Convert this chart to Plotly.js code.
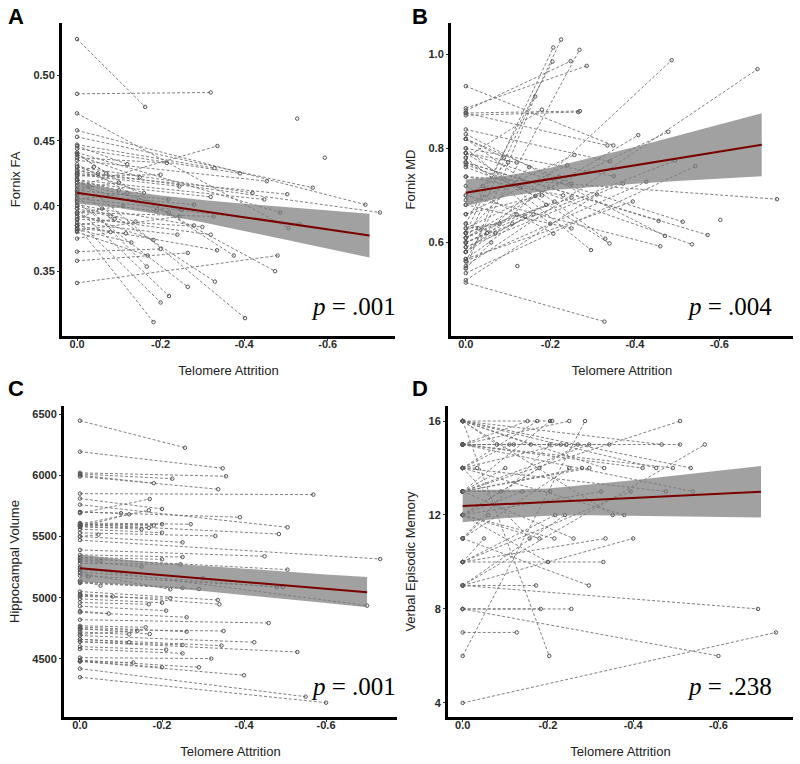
<!DOCTYPE html>
<html>
<head>
<meta charset="utf-8">
<script src="https://cdn.plot.ly/plotly-3.0.1.min.js"></script>
<style>html,body{margin:0;padding:0;background:#fff;}#chart{width:800px;height:764px;}</style>
</head>
<body>
<div id="chart"></div>
<script>
// ---------- Panel A: Fornix FA ----------
const attrA = [-0.163,-0.32,-0.506,-0.69,-0.564,-0.336,-0.329,-0.39,-0.215,-0.454,-0.725,-0.503,-0.42,-0.448,-0.486,-0.533,-0.32,-0.327,-0.32,-0.28,-0.375,-0.335,-0.48,-0.474,-0.33,-0.265,-0.22,-0.2,-0.183,-0.402,-0.24,-0.265,-0.218,-0.245,-0.245,-0.2,-0.169,-0.183,-0.167,-0.117,-0.15,-0.2,-0.1,-0.08,-0.12,-0.06,-0.14,-0.1,-0.05,-0.13,-0.28,-0.22,-0.3,-0.527,-0.593,-0.04,-0.07,-0.09,-0.11,-0.03,-0.16,-0.19,-0.12,-0.08,-0.25];
const baseA = [0.528,0.486,0.471,0.458,0.453,0.415,0.447,0.444,0.437,0.435,0.427,0.425,0.430,0.420,0.441,0.406,0.418,0.395,0.392,0.401,0.440,0.385,0.341,0.432,0.411,0.358,0.398,0.389,0.385,0.421,0.387,0.403,0.412,0.424,0.381,0.423,0.380,0.394,0.408,0.383,0.439,0.365,0.413,0.398,0.405,0.390,0.400,0.420,0.430,0.382,0.409,0.416,0.390,null,null,0.425,0.440,0.385,0.395,0.410,0.428,0.404,0.446,0.375,0.418];
const followA = [0.476,0.487,0.383,0.401,0.414,0.446,0.429,0.425,0.433,0.419,0.395,0.409,0.410,0.405,0.395,0.386,0.407,0.392,0.378,0.385,0.362,0.366,0.362,0.350,0.342,0.364,0.331,0.326,0.311,0.314,0.378,0.338,0.405,0.415,0.392,0.424,0.362,0.374,0.3535,0.379,0.422,0.367,0.418,0.392,0.410,0.398,0.388,0.412,0.425,0.372,0.401,0.395,0.384,0.467,0.437,0.430,0.425,0.390,0.400,0.415,0.410,0.396,0.432,0.380,0.397];

// ---------- Panel B: Fornix MD ----------
const attrB = [-0.2255,-0.207,-0.205,-0.269,-0.248,-0.286,-0.487,-0.69,-0.164,-0.27,-0.266,-0.18,-0.349,-0.335,-0.408,-0.479,-0.341,-0.495,-0.543,-0.35,-0.427,-0.736,-0.372,-0.25,-0.24,-0.257,-0.395,-0.456,-0.513,-0.602,-0.572,-0.471,-0.535,-0.46,-0.33,-0.34,-0.296,-0.207,-0.328,-0.122,-0.2,-0.31,-0.25,-0.21,-0.165,-0.13,-0.22,-0.1,-0.15,-0.12,-0.08,-0.18,-0.14,-0.06,-0.25,-0.04,-0.07,-0.09,-0.11,-0.05,-0.16,-0.19,-0.12,-0.23,-0.03];
const baseB = [0.60,0.62,0.64,0.56,0.88,0.885,0.58,0.55,0.545,0.875,0.87,0.78,0.932,0.875,0.61,0.63,0.84,0.60,0.535,0.80,0.56,0.74,0.59,0.82,0.66,0.68,0.565,0.77,0.79,null,0.77,0.83,0.765,0.70,0.82,0.79,0.80,0.72,0.515,null,0.78,0.52,0.62,0.60,0.77,0.76,0.58,0.69,0.62,0.61,0.63,0.66,0.565,0.545,0.68,0.70,0.64,0.82,0.58,0.60,0.59,0.61,0.79,0.74,0.62];
const followB = [1.031,1.014,0.984,1.009,0.985,0.975,0.987,0.968,0.91,0.879,0.877,0.882,0.806,0.806,0.828,0.835,0.772,0.774,0.762,0.741,0.729,0.692,0.725,0.725,0.764,0.786,0.687,0.646,0.644,0.648,0.616,0.614,0.596,0.592,0.608,0.598,0.584,0.619,0.432,0.55,0.64,0.702,0.695,0.687,0.699,0.716,0.74,0.77,0.76,0.66,0.64,0.70,0.655,0.60,0.63,0.72,0.62,0.78,0.64,0.62,0.66,0.68,0.77,0.70,0.63];

// ---------- Panel C: Hippocampal Volume ----------
const attrC = [-0.256,-0.348,-0.356,-0.225,-0.18,-0.337,-0.569,-0.732,-0.17,-0.168,-0.2,-0.12,-0.39,-0.506,-0.485,-0.27,-0.2,-0.168,-0.2,-0.33,-0.25,-0.045,-0.45,-0.25,-0.2,-0.506,-0.15,-0.245,-0.30,-0.02,-0.05,-0.22,-0.29,-0.25,-0.48,-0.495,-0.70,-0.336,-0.34,-0.22,-0.2,-0.168,-0.21,-0.26,-0.46,-0.16,-0.17,-0.26,-0.35,-0.14,-0.425,-0.345,-0.25,-0.12,-0.21,-0.53,-0.25,-0.32,-0.2,-0.29,-0.40,-0.55,-0.60,-0.1,-0.15,-0.08,-0.12,-0.07,-0.18,-0.05,-0.13];
const baseC = [6446,6193,6020,6010,6000,5990,5850,5470,5690,5600,5810,5580,5700,5760,5600,5610,5590,5580,5560,5530,5500,5500,5390,5350,5330,5320,5300,5280,5230,5250,5140,5200,5130,5120,5210,5180,5240,5050,5030,5010,4990,4960,4930,4880,4820,4770,4750,4760,4740,4700,4690,4660,4640,4660,4600,4640,4580,4510,4480,4490,4480,4420,4350,5700,5580,5020,4720,4890,5600,5310,4480];
const followC = [6225,6057,5992,5972,5935,5886,5842,5316,5806,5714,5725,5681,5657,5575,5520,5600,5600,5570,5531,5504,5452,5515,5338,5332,5313,5229,5253,5273,5158,5172,5098,5068,5071,5079,5087,5087,4935,4981,4946,4995,4959,4946,4894,4840,4793,4758,4703,4722,4728,4730,4636,4608,4614,4636,4575,4556,4545,4502,4431,4431,4366,4191,4142,5690,5560,5010,4700,4870,5590,5300,4470];

// ---------- Panel D: Verbal Episodic Memory ----------
const attrD = [-0.152,-0.175,-0.205,-0.21,-0.25,-0.287,-0.51,-0.568,-0.51,-0.467,-0.344,-0.297,-0.27,-0.243,-0.204,-0.16,-0.12,-0.535,-0.493,-0.454,-0.422,-0.332,-0.297,-0.25,-0.034,-0.54,-0.477,-0.394,-0.325,-0.205,-0.352,-0.379,-0.217,-0.26,-0.215,-0.18,-0.157,-0.335,-0.40,-0.33,-0.2,-0.296,-0.172,-0.255,-0.183,-0.693,-0.127,-0.203,-0.6,-0.735,-0.1,-0.14,-0.06,-0.23,-0.28,-0.24,-0.08,-0.11,-0.18,-0.05,-0.09];
const baseD = [15,14,13,16,15,6,13,9,15,16,15,13,12,15,11,16,15,16,15,16,15,16,13,11,14,15,14,10,12,13,16,14,10,13,12,12,14,10,9,10,12,11,9,8,8,9,7,16,8,4,13,12,11,14,13,9,16,14,12,10,13];
const followD = [16,16,16,16,16,16,16,15,15,15,15,15,15,15,15,15,15,14,14,14,14,14,14,14,14,13,13,13,13,13,12,12,12,11,11,11,11,11,11,10,10,9,9,8,8,8,7,6,6,7,14,13,12,15,14,12,15,15,14,11,13];

// ---------- Regression fits and confidence bands ----------
const fitX = [0,-0.1,-0.2,-0.3,-0.4,-0.5,-0.6,-0.7];
const fitA = [0.4102,0.4055,0.4008,0.3961,0.3914,0.3867,0.3820,0.3773];
const loA  = [0.4019,0.3985,0.3935,0.3876,0.3811,0.3743,0.3674,0.3605];
const hiA  = [0.4185,0.4125,0.4081,0.4046,0.4017,0.3991,0.3966,0.3941];
const fitB = [0.7057,0.7203,0.7348,0.7494,0.7639,0.7785,0.7930,0.8076];
const loB  = [0.6777,0.6983,0.7108,0.7184,0.7249,0.7305,0.7360,0.7406];
const hiB  = [0.7337,0.7423,0.7588,0.7804,0.8029,0.8265,0.8500,0.8746];
const fitC = [5240,5212,5184,5157,5129,5101,5073,5045];
const loC  = [5127,5110,5084,5055,5023,4990,4956,4922];
const hiC  = [5353,5314,5284,5259,5235,5212,5190,5168];
const fitD = [12.38,12.47,12.55,12.64,12.73,12.82,12.90,12.99];
const loD  = [11.69,11.87,11.97,11.99,11.98,11.96,11.92,11.89];
const hiD  = [13.07,13.07,13.13,13.29,13.48,13.68,13.88,14.09];

// ---------- Labels ----------
const panelLetters = ["A","B","C","D"];
const yTitles = ["Fornix FA","Fornix MD","Hippocampal Volume","Verbal Episodic Memory"];
const xTitle = "Telomere Attrition";
const pTexts = ["= .001","= .004","= .001","= .238"];
const xTickVals = [0,-0.2,-0.4,-0.6];
const xTickText = ["0.0","-0.2","-0.4","-0.6"];
const yTickVals = [[0.35,0.40,0.45,0.50],[0.6,0.8,1.0],[4500,5000,5500,6000,6500],[4,8,12,16]];
const yTickText = [["0.35","0.40","0.45","0.50"],["0.6","0.8","1.0"],["4500","5000","5500","6000","6500"],["4","8","12","16"]];

const panels = [
  {attr: attrA, base: baseA, follow: followA, fit: fitA, lo: loA, hi: hiA},
  {attr: attrB, base: baseB, follow: followB, fit: fitB, lo: loB, hi: hiB},
  {attr: attrC, base: baseC, follow: followC, fit: fitC, lo: loC, hi: hiC},
  {attr: attrD, base: baseD, follow: followD, fit: fitD, lo: loD, hi: hiD}
];

const W = 800, H = 764;
// plot boxes in pixels: [left, right, top, bottom]
const boxes = [[62,395,23,336],[451,793,23,336],[64,397,406,717],[448,793,406,717]];
const xRanges = [[0.036,-0.761],[0.035,-0.774],[0.039,-0.773],[0.0345,-0.775]];
const yRanges = [[0.3003,0.5403],[0.4015,1.066],[4025,6566],[3.4,16.64]];

const sansFont = "Liberation Sans, Arial, sans-serif";
const bold = arr => arr.map(s => "<b>" + s + "</b>");
const traces = [];
const layout = {
  width: W, height: H, margin: {l:0, r:0, t:0, b:0},
  paper_bgcolor: "#fff", plot_bgcolor: "#fff", showlegend: false,
  annotations: []
};

panels.forEach((p, k) => {
  const xa = k === 0 ? "x" : "x" + (k+1);
  const ya = k === 0 ? "y" : "y" + (k+1);
  const segX = [], segY = [], ptX = [], ptY = [];
  for (let i = 0; i < p.attr.length; i++) {
    if (p.base[i] !== null) {
      segX.push(0, p.attr[i], null);
      segY.push(p.base[i], p.follow[i], null);
      ptX.push(0); ptY.push(p.base[i]);
    }
    ptX.push(p.attr[i]); ptY.push(p.follow[i]);
  }
  traces.push({type: "scatter", mode: "lines", x: segX, y: segY, xaxis: xa, yaxis: ya,
    line: {color: "#727272", width: 0.9, dash: "3px,2px"}, hoverinfo: "skip"});
  traces.push({type: "scatter", mode: "markers", x: ptX, y: ptY, xaxis: xa, yaxis: ya,
    marker: {symbol: "circle-open", size: 3.5, color: "#555", line: {width: 1, color: "#555"}}, hoverinfo: "skip"});
  const bandX = fitX.concat(fitX.slice().reverse());
  const bandY = p.hi.concat(p.lo.slice().reverse());
  traces.push({type: "scatter", mode: "lines", x: bandX, y: bandY, xaxis: xa, yaxis: ya,
    fill: "toself", fillcolor: "rgba(125,125,125,0.72)", line: {width: 0}, hoverinfo: "skip"});
  traces.push({type: "scatter", mode: "lines", x: fitX, y: p.fit, xaxis: xa, yaxis: ya,
    line: {color: "#7a0000", width: 2}, hoverinfo: "skip"});

  const b = boxes[k];
  const xKey = k === 0 ? "xaxis" : "xaxis" + (k+1);
  const yKey = k === 0 ? "yaxis" : "yaxis" + (k+1);
  const tickFont = {family: sansFont, size: 11, color: "#2a2a2a"};
  layout[xKey] = {
    domain: [b[0]/W, b[1]/W], anchor: ya, range: xRanges[k],
    showgrid: false, zeroline: false, showline: true, linewidth: 3, linecolor: "#000",
    ticks: "outside", ticklen: 2, tickwidth: 1, tickcolor: "#333",
    tickvals: xTickVals, ticktext: bold(xTickText), tickfont: tickFont,
    ticklabelstandoff: -6,
    title: {text: xTitle, font: {family: sansFont, size: 13, color: "#222"}, standoff: 17},
    automargin: false
  };
  layout[yKey] = {
    domain: [1 - b[3]/H, 1 - b[2]/H], anchor: xa, range: yRanges[k],
    showgrid: false, zeroline: false, showline: true, linewidth: 3, linecolor: "#000",
    ticks: "outside", ticklen: 2, tickwidth: 1, tickcolor: "#333",
    tickvals: yTickVals[k], ticktext: bold(yTickText[k]), tickfont: tickFont,
    title: {text: yTitles[k], font: {family: sansFont, size: 13, color: "#222"}, standoff: 10},
    automargin: false
  };
  // panel letter
  const letterX = k % 2 === 0 ? 6 : 410;
  const letterY = k < 2 ? 2 : 374;
  layout.annotations.push({xref: "paper", yref: "paper", x: letterX/W, y: 1 - letterY/H,
    xanchor: "left", yanchor: "top", showarrow: false, text: "<b>" + panelLetters[k] + "</b>",
    font: {family: sansFont, size: 22, color: "#000"}});
  // p-value
  const pRight = k % 2 === 0 ? 398 : 774;
  const pBase = k < 2 ? 322 : 702;
  layout.annotations.push({xref: "paper", yref: "paper", x: pRight/W, y: 1 - pBase/H,
    xanchor: "right", yanchor: "bottom", showarrow: false,
    text: "<i>p</i> " + pTexts[k],
    font: {family: "Liberation Serif, Times New Roman, serif", size: 25, color: "#000"}});
});

Plotly.newPlot("chart", traces, layout, {displayModeBar: false, staticPlot: true});
</script>
</body>
</html>
